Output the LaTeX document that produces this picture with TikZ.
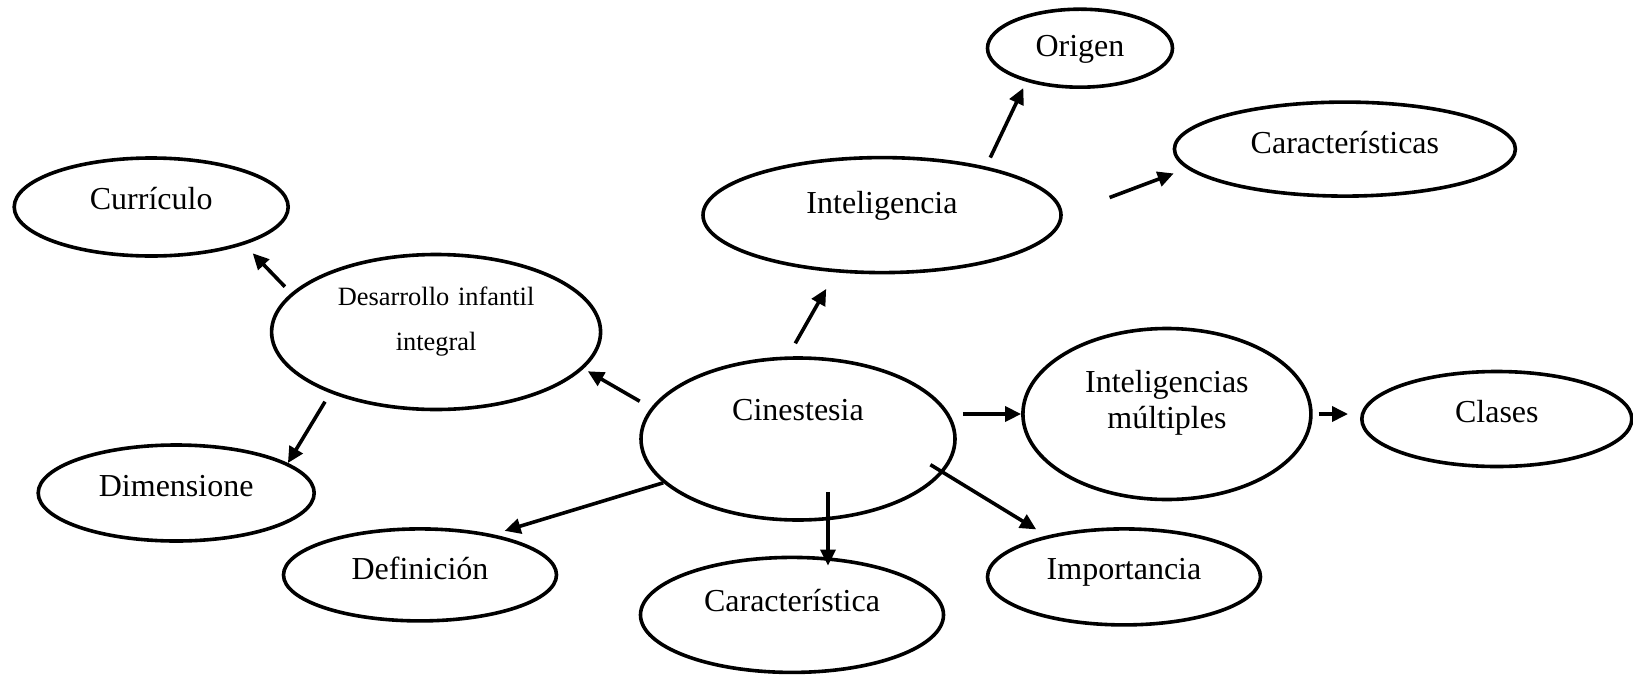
\documentclass[tikz,border=0pt]{standalone}
\usepackage{fontspec}
\setmainfont{Liberation Serif}
\usetikzlibrary{shapes.geometric, arrows.meta}

\begin{document}
\begin{tikzpicture}[
    bubble/.style={draw, ellipse, black, line width=1.8pt, inner sep=0pt, text height=10pt, font=\fontsize{16}{18}\selectfont},
    arr/.style={black, line width=1.8pt, -{Triangle[length=8pt, width=7.5pt]}}]
                \useasboundingbox (0,0) rectangle (816.5pt,-337.5pt);
                \node[bubble, minimum width=157pt, minimum height=81pt, text depth=29pt] (cin) at (399pt,-219.5pt) {Cinestesia};
                \node[bubble, minimum width=164.5pt, minimum height=77.5pt, text width=110pt, align=center, text depth=37pt, font=\fontsize{13.2}{22.5}\selectfont, left of=cin, xshift=-152.5pt, yshift=53.5pt] (desa) {Desarrollo infantil\\ integral};
                \node[bubble, minimum width=137pt, minimum height=49pt, text depth=8pt, left of=desa, xshift=-114pt, yshift=62.5pt] (curr) {Currículo};
                \node[bubble, minimum width=138pt, minimum height=48pt, text depth=7pt, left of=desa, xshift=-101.5pt, yshift=-80.5pt] (dime) {Dimensione};
                \node[bubble, minimum width=136.5pt, minimum height=46pt, text depth=5pt, below of=cin, xshift=-189pt, yshift=-39.5pt] (defi) {Definición};
                \node[bubble, minimum width=151.5pt, minimum height=57.5pt, text depth=13pt, below of=cin, xshift=-3pt, yshift=-59.5pt] (cara) {Característica};
                \node[bubble, minimum width=136.5pt, minimum height=48pt, text depth=7pt, below of=cin, xshift=163pt, yshift=-40.5pt] (impo) {Importancia};
                \node[bubble, minimum width=179pt, minimum height=57.5pt, text depth=12pt, above of=cin, xshift=42pt, yshift=83.5pt] (intel) {Inteligencia};
                \node[bubble, minimum width=92.5pt, minimum height=39pt, text depth=2pt, above of=intel, xshift=99pt, yshift=55pt] (orig) {Origen};
                \node[bubble, minimum width=170.5pt, minimum height=47pt, text depth=6pt, right of=intel, xshift=203pt, yshift=33pt] (carsc) {Características};
                \node[bubble, minimum width=144pt, minimum height=85.5pt, text width=95pt, align=center, text depth=32pt, right of=cin, xshift=156pt, yshift=12.5pt] (intmul) {Inteligencias\\ múltiples};
                \node[bubble, minimum width=135pt, minimum height=47.5pt, text depth=7pt, right of=intmul, xshift=136.5pt, yshift=-2.5pt] (clas) {Clases};
                \draw[arr, shorten <=6.5pt, shorten >=2.5pt] (cin.168) -- (desa.-14);
                \draw[arr, shorten <=7.5pt, shorten >=9.5pt] (cin.97) -- (intel.231);
                \draw[arr, shorten <=3pt] (cin.east |- intmul.west) -- (intmul.west);
                \draw[arr, shorten <=3pt, shorten >=6pt] (intmul.east) -- (intmul.east -| clas.west);
                \draw[arr, shorten >=6pt] (cin.198) -- (defi.29);
                \draw[arr, shorten <=-15pt, shorten >=-5pt] ([xshift=15pt]cin.south) -- ([xshift=15pt]cin.south |- cara.north);
                \draw[arr, shorten <=-7.5pt, shorten >=6pt] (cin.-13) -- (impo.152);
                \draw[arr, shorten <=5pt, shorten >=3.5pt] (intel.25) -- (orig.212);
                \draw[arr, shorten <=25pt, shorten >=7pt] (intel.east) -- (carsc.187);
                \draw[arr, shorten <=4.5pt, shorten >=6pt] (desa.165) -- (curr.-22);
                \draw[arr, shorten <=5pt] (desa.210) -- (dime.15);
            \end{tikzpicture}
\end{document}
